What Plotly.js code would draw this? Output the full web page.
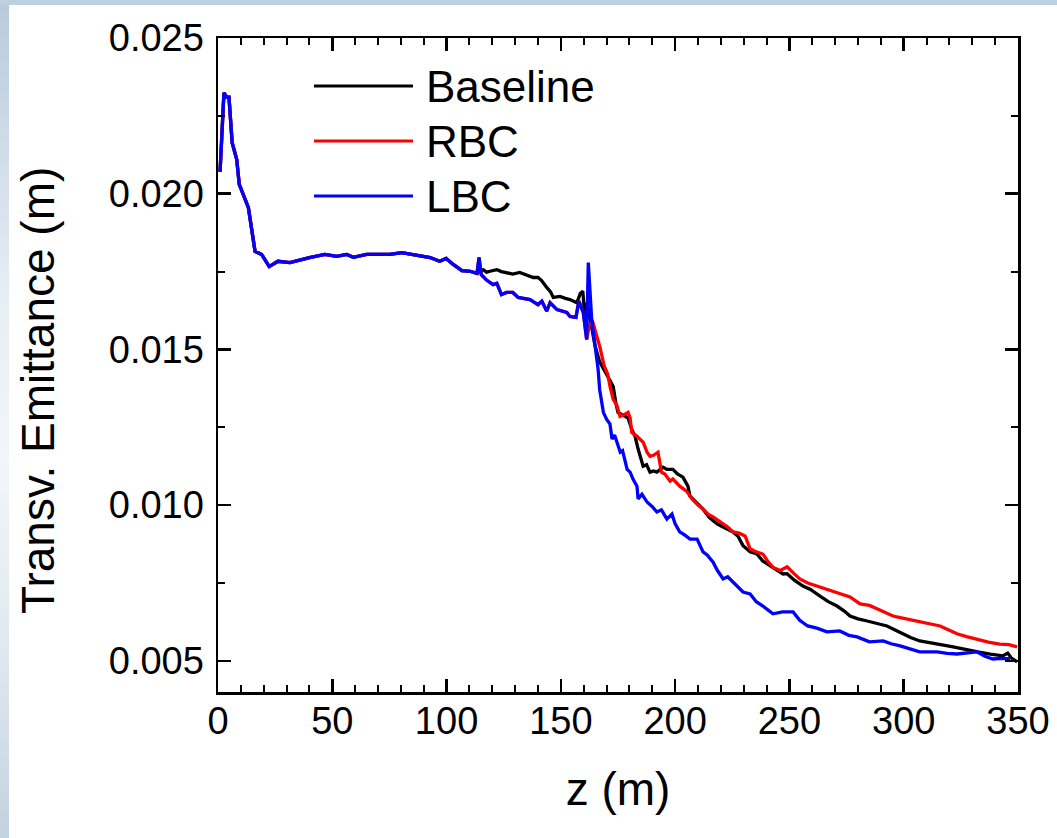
<!DOCTYPE html>
<html>
<head>
<meta charset="utf-8">
<script src="https://cdn.plot.ly/plotly-3.0.1.min.js"></script>
<style>
  html, body { margin: 0; padding: 0; }
  body {
    width: 1057px; height: 838px; overflow: hidden;
    background:
      linear-gradient(#bdd0e0, #bdd0e0) top left / 100% 5px no-repeat,
      linear-gradient(to bottom, #b8cadb 0%, #e6edf4 35%, #f3f6f9 55%, #dde6ee 80%, #c3d2df 100%) top left / 9px 100% no-repeat,
      #ffffff;
  }
  #chart { width: 1057px; height: 838px; }
</style>
</head>
<body>
<div id="chart"></div>
<script>
// ---------------- data ----------------
const seriesNames = ["Baseline", "RBC", "LBC"];
const seriesColors = ["#000000", "#ff0000", "#0000ff"];
const xTitle = "z (m)";
const yTitle = "Transv. Emittance (m)";

// shared early part (all three curves coincide)
const zCommon = [0.9, 2.6, 3.8, 4.8, 6.2, 8.2, 9.3, 13.3, 16.2, 19.1, 22.4, 26.2, 31.5, 35.9, 40, 46.8, 51.9, 56.3, 59.2, 65, 75.2, 80.4, 85.4, 92.8, 97, 99.8, 102.9, 106.7, 110.3, 113.3];
const eCommon = [0.0207, 0.02324, 0.0231, 0.0231, 0.02164, 0.0211, 0.0203, 0.01955, 0.01815, 0.01805, 0.01766, 0.01783, 0.01779, 0.01788, 0.01795, 0.01805, 0.01799, 0.01805, 0.01796, 0.01805, 0.01805, 0.01811, 0.01805, 0.01795, 0.01783, 0.01792, 0.01773, 0.01753, 0.01751, 0.01744];

// LBC after z = 113.3
const zLBC = [114.2, 115.2, 117.6, 120.4, 122, 124, 126.3, 129, 131.3, 136.5, 140, 141.7, 143.8, 145.3, 148.3, 152.6, 154, 156.6, 157.9, 159.8, 161.3, 162, 163.5, 165, 166.3, 167, 168.6, 170, 171.5, 172.4, 173.5, 176, 177, 179, 180.3, 181.6, 183.3, 183.8, 185.5, 187.7, 190, 192, 194, 196.4, 198.6, 200, 202, 204, 206.5, 209.6, 212.2, 214, 216.6, 218.5, 221, 223, 225.3, 227.5, 229.7, 232.8, 235.5, 238.4, 242.8, 247, 251.6, 254.5, 258, 262, 266.4, 272, 276, 279.6, 285, 291, 294.5, 298.4, 303, 307, 314.6, 319, 323.3, 328, 332, 335.5, 339, 343, 346.5];
const eLBC = [0.01795, 0.0174, 0.01722, 0.01708, 0.01712, 0.01676, 0.01683, 0.01683, 0.01667, 0.0166, 0.01644, 0.01655, 0.01623, 0.0165, 0.01628, 0.01619, 0.01606, 0.01603, 0.01655, 0.01619, 0.01532, 0.01779, 0.01596, 0.0151, 0.01436, 0.0137, 0.01298, 0.01276, 0.0126, 0.01212, 0.01225, 0.0117, 0.01175, 0.01115, 0.01106, 0.01083, 0.01061, 0.0102, 0.01035, 0.0101, 0.00995, 0.00978, 0.00985, 0.00955, 0.00971, 0.0094, 0.00914, 0.00905, 0.00891, 0.00891, 0.0085, 0.0084, 0.00817, 0.0079, 0.00763, 0.0077, 0.00753, 0.0074, 0.00721, 0.00715, 0.0069, 0.00676, 0.00651, 0.00657, 0.00657, 0.0063, 0.00612, 0.00605, 0.00593, 0.00596, 0.00582, 0.00577, 0.00561, 0.00564, 0.00555, 0.00548, 0.00538, 0.00529, 0.00529, 0.00524, 0.00522, 0.00526, 0.00529, 0.00515, 0.00506, 0.00508, 0.00506];

// Baseline after z = 113.3
const zBase = [116, 117.5, 119, 122, 124, 126.3, 129, 132, 135, 137.9, 140, 141.5, 143.8, 145.5, 146.7, 149.6, 152, 154, 157, 158.5, 159.6, 160.6, 161.5, 163, 165, 167, 169, 170.5, 171.5, 172.9, 174, 175, 177, 179.4, 181, 182.5, 183.8, 186, 187.5, 189, 190.5, 192, 194.7, 196.4, 199, 201, 203.4, 205.6, 206.5, 209, 212.2, 215, 218.3, 221, 225.3, 227.5, 229.7, 232.8, 235.8, 238.4, 241.5, 244.5, 247.2, 249, 252, 255.9, 259, 263.4, 267, 270.8, 274, 276.5, 280, 284, 288, 292.7, 296, 299.7, 303, 307, 311, 314.6, 318, 321.6, 325, 329, 333, 337.8, 341, 343.4, 345.5, 347, 349.6];
const eBase = [0.01756, 0.01748, 0.01751, 0.01756, 0.0175, 0.01747, 0.01742, 0.01747, 0.0174, 0.01731, 0.01731, 0.01722, 0.01699, 0.01685, 0.01667, 0.0167, 0.01664, 0.0166, 0.0165, 0.0168, 0.01687, 0.01596, 0.0165, 0.0159, 0.0151, 0.0146, 0.0143, 0.01413, 0.014, 0.01381, 0.0133, 0.01298, 0.0129, 0.0128, 0.01244, 0.0122, 0.0118, 0.01125, 0.0113, 0.01106, 0.0111, 0.01106, 0.01122, 0.01115, 0.01115, 0.011, 0.0109, 0.01061, 0.01029, 0.0101, 0.00987, 0.0096, 0.0094, 0.0093, 0.00914, 0.009, 0.0087, 0.0085, 0.00843, 0.0082, 0.00805, 0.0079, 0.00779, 0.0078, 0.0076, 0.0074, 0.0073, 0.00708, 0.0069, 0.00676, 0.0066, 0.00644, 0.00635, 0.00628, 0.0062, 0.00612, 0.006, 0.00587, 0.00575, 0.00564, 0.00558, 0.00554, 0.0055, 0.00545, 0.0054, 0.00532, 0.00528, 0.00522, 0.00518, 0.00516, 0.00525, 0.0051, 0.00497];

// RBC follows LBC up to z = 161.3, then:
const zRBCmid = [114.2, 115.2, 117.6, 120.4, 122, 124, 126.3, 129, 131.3, 136.5, 140, 141.7, 143.8, 145.3, 148.3, 152.6, 154, 156.6, 157.9, 159.8, 161.3];
const eRBCmid = [0.01795, 0.0174, 0.01722, 0.01708, 0.01712, 0.01676, 0.01683, 0.01683, 0.01667, 0.0166, 0.01644, 0.01655, 0.01623, 0.0165, 0.01628, 0.01619, 0.01606, 0.01603, 0.01655, 0.01619, 0.01532];
const zRBC = [162.5, 164, 165.5, 167, 169, 170.5, 171.5, 172.9, 174.5, 175.9, 177.5, 179.4, 180.3, 181, 183.3, 184.6, 186, 187.7, 189, 190.5, 192.5, 194, 195.5, 197.8, 199, 202, 205, 207.4, 210, 212.2, 214.5, 216.6, 219, 221, 223, 225.3, 228, 230.6, 232.8, 235.5, 238.4, 240.5, 242.8, 246, 249, 252, 254.6, 258, 262, 265.5, 269, 272.5, 276.5, 280.9, 285, 288.3, 292, 295.3, 298, 301.4, 305, 308.4, 312, 315.9, 319.5, 323.3, 327.5, 332, 337, 342, 346, 349.6];
const eRBC = [0.0158, 0.01587, 0.0155, 0.0151, 0.01446, 0.0142, 0.01381, 0.0134, 0.0132, 0.01285, 0.0129, 0.01298, 0.0128, 0.01234, 0.01221, 0.01212, 0.01202, 0.0117, 0.01157, 0.0116, 0.0117, 0.01106, 0.011, 0.01077, 0.01084, 0.01061, 0.01045, 0.0102, 0.01, 0.00987, 0.0097, 0.00962, 0.0095, 0.0094, 0.0093, 0.00914, 0.0091, 0.00901, 0.0086, 0.0085, 0.00843, 0.0082, 0.008, 0.0079, 0.00802, 0.0078, 0.00763, 0.0075, 0.0074, 0.0073, 0.00721, 0.00715, 0.00705, 0.00683, 0.00678, 0.00667, 0.00655, 0.00644, 0.0064, 0.00635, 0.00628, 0.00625, 0.00618, 0.00612, 0.006, 0.00587, 0.00578, 0.0057, 0.0056, 0.00554, 0.00552, 0.00545];

const xTickVals = [0, 50, 100, 150, 200, 250, 300, 350];
const yTickVals = [0.005, 0.010, 0.015, 0.020, 0.025];

// ---------------- build traces ----------------
const seriesX = [
  zCommon.concat(zBase),
  zCommon.concat(zRBCmid, zRBC),
  zCommon.concat(zLBC)
];
const seriesY = [
  eCommon.concat(eBase),
  eCommon.concat(eRBCmid, eRBC),
  eCommon.concat(eLBC)
];

const traces = seriesNames.map((name, i) => ({
  type: 'scatter', mode: 'lines', name: name,
  x: seriesX[i], y: seriesY[i],
  line: { color: seriesColors[i], width: 3.3 },
  showlegend: false, hoverinfo: 'skip'
}));

// ---------------- manual legend (long line samples like the original) ----------------
const W = 1057, H = 838;
const L = 218, R = 39, T = 38, B = 146;
const pw = W - L - R, ph = H - T - B;
const px = v => (v - L) / pw;
const py = v => (H - B - v) / ph;

const fontFam = 'Liberation Sans, Arial, sans-serif';
const shapes = [];
const annotations = [];
const legendRows = [86, 141, 196];
seriesNames.forEach((name, i) => {
  shapes.push({
    type: 'line', xref: 'paper', yref: 'paper',
    x0: px(314), x1: px(413), y0: py(legendRows[i]), y1: py(legendRows[i]),
    line: { color: seriesColors[i], width: 3 }
  });
  annotations.push({
    xref: 'paper', yref: 'paper', x: px(424), y: py(legendRows[i]),
    xanchor: 'left', yanchor: 'middle', showarrow: false,
    text: name, font: { family: fontFam, size: 44, color: '#000' }
  });
});

// y-axis title (placed like the original: slightly below the plot centre)
annotations.push({
  xref: 'paper', yref: 'paper', x: px(38), y: py(391),
  xanchor: 'center', yanchor: 'middle', showarrow: false, textangle: -90,
  text: yTitle, font: { family: fontFam, size: 46, color: '#000' }
});

const layout = {
  width: W, height: H,
  margin: { l: L, r: R, t: T, b: B },
  paper_bgcolor: 'rgba(0,0,0,0)',
  plot_bgcolor: '#ffffff',
  showlegend: false,
  font: { family: fontFam, color: '#000' },
  xaxis: {
    range: [0, 350], tickvals: xTickVals, ticktext: xTickVals.map(String),
    ticks: 'inside', ticklen: 13, tickwidth: 2.5, tickcolor: '#000',
    minor: { dtick: 10, tick0: 0, ticks: 'inside', ticklen: 7, tickwidth: 2, tickcolor: '#000', showgrid: false },
    showline: true, linecolor: '#000', linewidth: 2.5, mirror: 'allticks',
    showgrid: false, zeroline: false,
    tickfont: { family: fontFam, size: 38, color: '#000' },
    ticklabelstandoff: -6,
    title: { text: xTitle, font: { family: fontFam, size: 46, color: '#000' }, standoff: 32 }
  },
  yaxis: {
    range: [0.004, 0.025], tickvals: yTickVals, ticktext: yTickVals.map(v => v.toFixed(3)),
    ticks: 'inside', ticklen: 13, tickwidth: 2.5, tickcolor: '#000',
    minor: { dtick: 0.0025, tick0: 0, ticks: 'inside', ticklen: 7, tickwidth: 2, tickcolor: '#000', showgrid: false },
    showline: true, linecolor: '#000', linewidth: 2.5, mirror: 'allticks',
    showgrid: false, zeroline: false,
    tickfont: { family: fontFam, size: 38, color: '#000' },
    ticklabelstandoff: 4
  },
  shapes: shapes,
  annotations: annotations
};

Plotly.newPlot('chart', traces, layout, { staticPlot: true, displayModeBar: false });
</script>
</body>
</html>
